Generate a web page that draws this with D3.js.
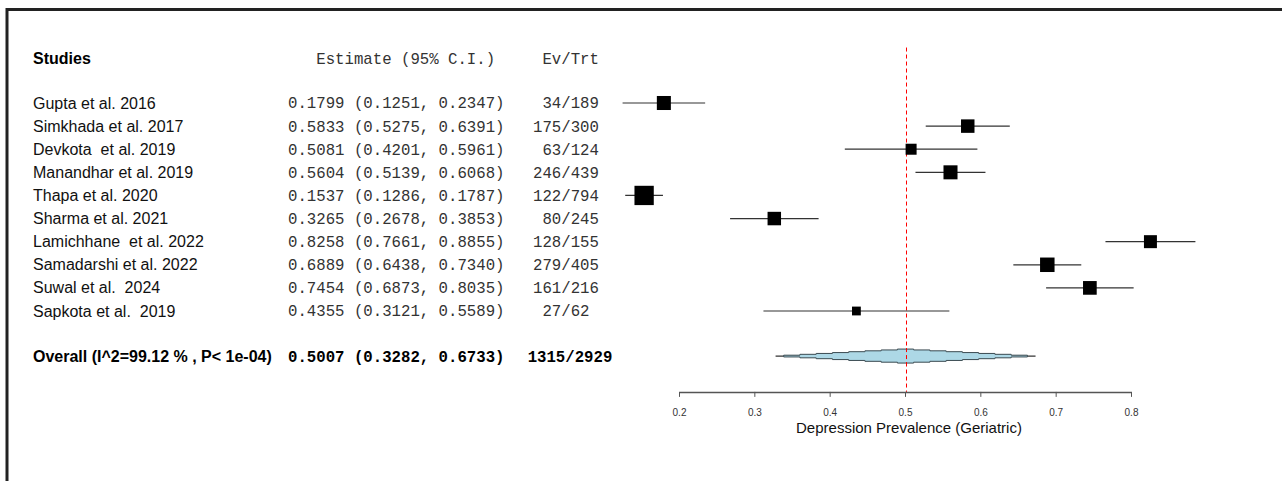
<!DOCTYPE html>
<html>
<head>
<meta charset="utf-8">
<script src="https://cdn.jsdelivr.net/npm/d3@7"></script>
<style>
  body { margin: 0; background: #fff; }
  svg text { white-space: pre; }
</style>
</head>
<body>
<div id="chart"></div>
<script>
const studies = [
  "Gupta et al. 2016", "Simkhada et al. 2017", "Devkota  et al. 2019", "Manandhar et al. 2019",
  "Thapa et al. 2020", "Sharma et al. 2021", "Lamichhane  et al. 2022", "Samadarshi et al. 2022",
  "Suwal et al.  2024", "Sapkota et al.  2019"
];
const estimates = [0.1799, 0.5833, 0.5081, 0.5604, 0.1537, 0.3265, 0.8258, 0.6889, 0.7454, 0.4355];
const lower     = [0.1251, 0.5275, 0.4201, 0.5139, 0.1286, 0.2678, 0.7661, 0.6438, 0.6873, 0.3121];
const upper     = [0.2347, 0.6391, 0.5961, 0.6068, 0.1787, 0.3853, 0.8855, 0.7340, 0.8035, 0.5589];
const events    = [34, 175, 63, 246, 122, 80, 128, 279, 161, 27];
const totals    = [189, 300, 124, 439, 794, 245, 155, 405, 216, 62];
// study weights (%)
const weights   = [10.4, 9.6, 6.4, 10.4, 19.7, 9.6, 8.9, 11.1, 9.9, 4.1];

const overall = { label: "Overall (I^2=99.12 % , P< 1e-04)", est: 0.5007, lo: 0.3282, hi: 0.6733, ev: 1315, n: 2929 };
const tickValues = [0.2, 0.3, 0.4, 0.5, 0.6, 0.7, 0.8];
const xTitle = "Depression Prevalence (Geriatric)";

const W = 1282, H = 481;
const sans = "'Liberation Sans', Arial, sans-serif";
const mono = "'Liberation Mono', 'Courier New', monospace";
const monoSize = 15.7;

const svg = d3.select("#chart").append("svg").attr("width", W).attr("height", H);

// frame
svg.append("path")
  .attr("d", `M7,${H + 5}V9.5H${W + 5}`)
  .attr("fill", "none").attr("stroke", "#222").attr("stroke-width", 3);

const x = d3.scaleLinear().domain([0.2, 0.8]).range([679, 1131]);
const y = d3.scaleLinear().domain([0, 9]).range([103, 311]);
const box = d3.scaleSqrt().domain([0, 19.7]).range([0, 19.3]);

const f4 = d3.format(".4f");
const ciText = (e, l, h) => `${f4(e)} (${f4(l)}, ${f4(h)})`;
const pad = (s, n) => s.padStart(n, " ");

const colStudy = 33, colEst = 288, colEv = 566;

// header
const header = y(-1.92);
svg.append("text").attr("x", colStudy).attr("y", header).attr("dy", "0.35em")
  .attr("font-family", sans).attr("font-size", 16).attr("font-weight", "bold").text("Studies");
svg.append("text").attr("x", colEst).attr("y", header).attr("dy", "0.35em")
  .attr("font-family", mono).attr("font-size", monoSize).attr("fill", "#333").text("   Estimate (95% C.I.)");
svg.append("text").attr("x", colEv).attr("y", header).attr("dy", "0.35em").attr("text-anchor", "middle")
  .attr("font-family", mono).attr("font-size", monoSize).attr("fill", "#333").text(" Ev/Trt");

// reference line at overall estimate
const refX = Math.round(x(overall.est)) + 0.5;
svg.append("line")
  .attr("x1", refX).attr("x2", refX)
  .attr("y1", y(-2.4)).attr("y2", y(12.5))
  .attr("stroke", "#ff0000").attr("stroke-width", 1).attr("stroke-dasharray", "4,3");

// study rows
const rows = studies.map((s, i) => ({
  s, i, est: estimates[i], lo: lower[i], hi: upper[i], ev: events[i], n: totals[i], w: weights[i]
}));

const g = svg.append("g");
rows.forEach(d => {
  const cy = y(d.i);
  g.append("text").attr("x", colStudy).attr("y", cy).attr("dy", "0.35em")
    .attr("font-family", sans).attr("font-size", 16).attr("fill", "#111").text(d.s);
  g.append("text").attr("x", colEst).attr("y", cy).attr("dy", "0.35em")
    .attr("font-family", mono).attr("font-size", monoSize).attr("fill", "#333").text(ciText(d.est, d.lo, d.hi));
  let evs = `${d.ev}/${d.n}`;
  evs = evs.length === 5 ? ` ${evs} ` : pad(evs, 7);
  g.append("text").attr("x", colEv).attr("y", cy).attr("dy", "0.35em").attr("text-anchor", "middle")
    .attr("font-family", mono).attr("font-size", monoSize).attr("fill", "#333").text(evs);

  g.append("line").attr("x1", x(d.lo)).attr("x2", x(d.hi)).attr("y1", cy).attr("y2", cy)
    .attr("stroke", "#333").attr("stroke-width", 1.2);
  const s = box(d.w);
  g.append("rect").attr("x", x(d.est) - s / 2).attr("y", cy - s / 2)
    .attr("width", s).attr("height", s).attr("fill", "#000");
});

// overall row
const oy = y(10.95);
svg.append("text").attr("x", colStudy).attr("y", oy).attr("dy", "0.35em")
  .attr("font-family", sans).attr("font-size", 16).attr("font-weight", "bold").text(overall.label);
svg.append("text").attr("x", colEst).attr("y", oy).attr("dy", "0.35em")
  .attr("font-family", mono).attr("font-size", monoSize).attr("font-weight", "bold")
  .text(ciText(overall.est, overall.lo, overall.hi));
svg.append("text").attr("x", colEv + 4).attr("y", oy).attr("dy", "0.35em").attr("text-anchor", "middle")
  .attr("font-family", mono).attr("font-size", monoSize).attr("font-weight", "bold")
  .text(`${overall.ev}/${overall.n}`);

// stepped diamond
const cx = x(overall.est), L = x(overall.lo), R = x(overall.hi);
const steps = 8, hMax = 7;
const lx = i => cx - (cx - L) * (1 - (i - 0.5) / steps);
const rx = i => cx + (R - cx) * (1 - (i - 0.5) / steps);
const hh = i => hMax * i / steps;
const upperPts = [], lowerPts = [];
for (let i = 1; i <= steps; i++) {
  upperPts.push([lx(i), oy - hh(i - 1)], [lx(i), oy - hh(i)]);
}
for (let i = steps; i >= 1; i--) {
  upperPts.push([rx(i), oy - hh(i)], [rx(i), oy - hh(i - 1)]);
}
for (let i = 1; i <= steps; i++) {
  lowerPts.push([rx(i), oy + hh(i - 1)], [rx(i), oy + hh(i)]);
}
for (let i = steps; i >= 1; i--) {
  lowerPts.push([lx(i), oy + hh(i)], [lx(i), oy + hh(i - 1)]);
}
svg.append("line").attr("x1", L).attr("x2", R).attr("y1", oy).attr("y2", oy)
  .attr("stroke", "#333").attr("stroke-width", 1.2);
svg.append("path")
  .attr("d", d3.line()(upperPts.concat(lowerPts)) + "Z")
  .attr("fill", "#add8e6").attr("stroke", "#3a4a50").attr("stroke-width", 1);
svg.append("line")
  .attr("x1", refX).attr("x2", refX).attr("y1", oy - hMax - 1).attr("y2", oy + hMax + 1)
  .attr("stroke", "#ff0000").attr("stroke-width", 1).attr("stroke-dasharray", "4,3");

// axis
const axisY = y(12.5);
const ax = svg.append("g").attr("transform", `translate(0,${axisY})`)
  .call(d3.axisBottom(x).tickValues(tickValues).tickFormat(d3.format(".1f"))
    .tickSize(5).tickSizeOuter(0).tickPadding(12));
ax.select(".domain").attr("stroke", "#555").attr("stroke-width", 1.5);
ax.selectAll(".tick line").attr("stroke", "#555");
ax.selectAll(".tick text").attr("font-family", sans).attr("font-size", 10).attr("fill", "#333");

svg.append("text").attr("x", x(0.5) + 4).attr("y", axisY + 41).attr("text-anchor", "middle")
  .attr("font-family", sans).attr("font-size", 15).attr("fill", "#111").text(xTitle);
</script>
</body>
</html>
